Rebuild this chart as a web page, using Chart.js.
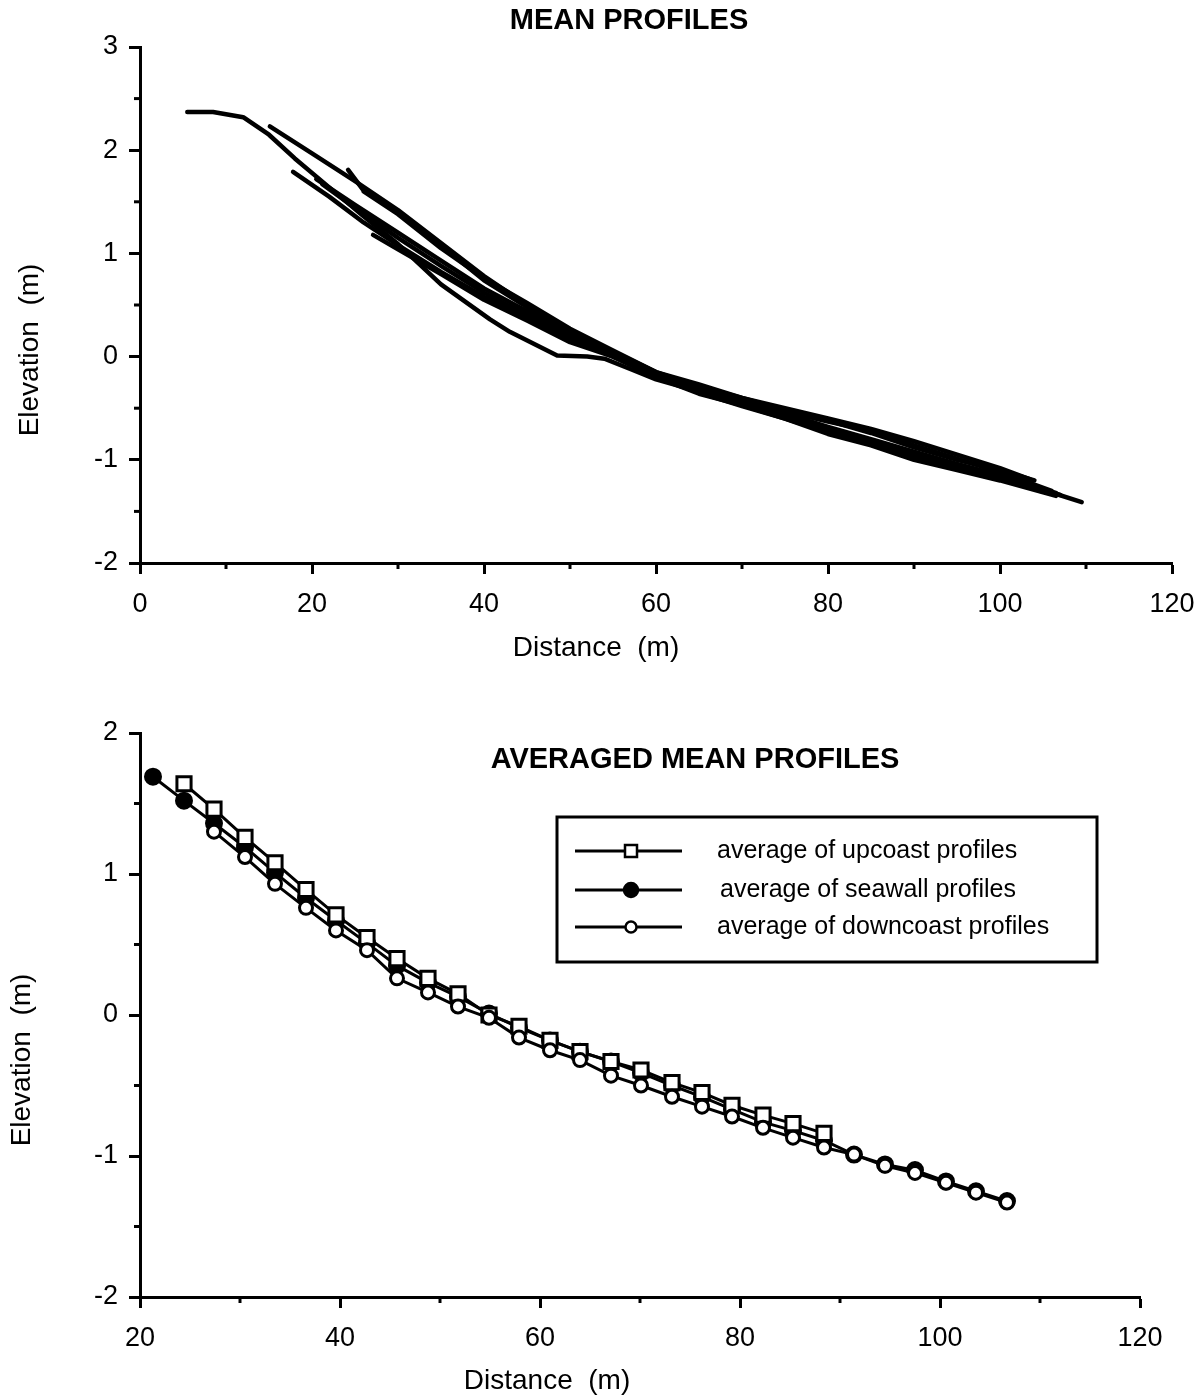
<!DOCTYPE html>
<html>
<head>
<meta charset="utf-8">
<script src="https://cdn.jsdelivr.net/npm/chart.js@4.4.1/dist/chart.umd.min.js"></script>
<style>
  html, body { margin: 0; padding: 0; background: #fff; }
  #wrap { position: relative; width: 1202px; height: 1397px; }
  canvas { position: absolute; left: 0; }
</style>
</head>
<body>
<div id="wrap">
  <canvas id="topChart" width="1202" height="690" style="top:0"></canvas>
  <canvas id="bottomChart" width="1202" height="707" style="top:690px"></canvas>
</div>
<script>
// --- MEAN PROFILES: individual profiles (distance m, elevation m)
const distA = [5.5, 8.5, 12, 15, 18, 22, 26, 30, 35, 40.7, 43, 48.5, 52, 54, 57, 60, 65, 70, 75, 80, 85, 90, 95, 100, 105, 109.5];
const elevA = [2.37, 2.37, 2.32, 2.15, 1.92, 1.64, 1.36, 1.09, 0.70, 0.36, 0.24, 0.01, 0.0, -0.02, -0.12, -0.22, -0.34, -0.45, -0.56, -0.70, -0.82, -0.93, -1.05, -1.16, -1.29, -1.41];
const distB = [15.1, 20, 25, 30, 35, 40, 45, 50, 55, 60, 65, 70, 75, 80, 85, 90, 95, 100, 103.5];
const elevB = [2.23, 1.97, 1.70, 1.42, 1.10, 0.78, 0.50, 0.25, 0.05, -0.15, -0.27, -0.40, -0.50, -0.60, -0.70, -0.82, -0.95, -1.08, -1.19];
const distC = [24.2, 25.9, 30, 35, 40, 45, 50, 55, 60, 65, 70, 75, 80, 85, 90, 95, 100, 106];
const elevC = [1.81, 1.62, 1.40, 1.08, 0.74, 0.48, 0.22, 0.04, -0.17, -0.30, -0.42, -0.53, -0.63, -0.72, -0.86, -0.99, -1.12, -1.30];
const distD = [17.8, 22, 26, 30, 35, 40, 45, 50, 55, 60, 65, 70, 75, 80, 85, 90, 95, 100, 106.5];
const elevD = [1.79, 1.55, 1.30, 1.08, 0.82, 0.58, 0.38, 0.18, 0.02, -0.20, -0.33, -0.46, -0.58, -0.72, -0.83, -0.95, -1.06, -1.17, -1.32];
const distE = [21.2, 25, 30, 35, 40, 45, 50, 55, 60, 65, 70, 75, 80, 85, 90, 95, 100, 103.5];
const elevE = [1.67, 1.44, 1.15, 0.88, 0.62, 0.40, 0.18, 0.0, -0.18, -0.35, -0.48, -0.60, -0.73, -0.85, -0.97, -1.08, -1.18, -1.22];
const distF = [27.1, 30, 35, 40, 45, 50, 55, 60, 65, 70, 75, 80, 85, 90, 95, 100, 106.5];
const elevF = [1.18, 1.04, 0.80, 0.55, 0.35, 0.14, 0.0, -0.20, -0.36, -0.47, -0.60, -0.75, -0.86, -1.00, -1.10, -1.20, -1.35];
const distG = [26, 30, 35, 40, 45, 50, 55, 60, 65, 70, 75, 80, 85, 90, 95, 100, 104];
const elevG = [1.60, 1.38, 1.05, 0.76, 0.52, 0.27, 0.06, -0.15, -0.29, -0.40, -0.52, -0.62, -0.74, -0.88, -1.00, -1.10, -1.20];
const distH = [20.5, 25, 30, 35, 40, 45, 50, 55, 60, 65, 70, 75, 80, 85, 90, 95, 100, 107];
const elevH = [1.72, 1.47, 1.20, 0.93, 0.66, 0.44, 0.22, 0.03, -0.19, -0.31, -0.44, -0.55, -0.68, -0.80, -0.92, -1.04, -1.15, -1.34];

// --- AVERAGED MEAN PROFILES (10 ft station spacing)
const avgDist = [21.3, 24.4, 27.4, 30.5, 33.5, 36.6, 39.6, 42.7, 45.7, 48.8, 51.8, 54.9, 57.9, 61.0, 64.0, 67.1, 70.1, 73.2, 76.2, 79.2, 82.3, 85.3, 88.4, 91.4, 94.5, 97.5, 100.6, 103.6, 106.7];
const upcoast = [null, 1.64, 1.46, 1.26, 1.08, 0.89, 0.71, 0.55, 0.40, 0.26, 0.15, 0.0, -0.08, -0.18, -0.26, -0.33, -0.39, -0.48, -0.55, -0.64, -0.71, -0.77, -0.84, null, null, null, null, null, null];
const seawall = [1.69, 1.52, 1.36, 1.19, 1.01, 0.83, 0.67, 0.51, 0.35, 0.23, 0.13, 0.01, -0.09, -0.18, -0.26, -0.33, -0.41, -0.50, -0.58, -0.67, -0.76, -0.82, -0.89, -0.99, -1.06, -1.10, -1.18, -1.25, -1.32];
const downcoast = [null, null, 1.30, 1.12, 0.93, 0.76, 0.60, 0.46, 0.26, 0.16, 0.06, -0.02, -0.16, -0.25, -0.32, -0.43, -0.50, -0.58, -0.65, -0.72, -0.80, -0.87, -0.94, -0.99, -1.07, -1.12, -1.19, -1.26, -1.33];
const seriesNames = ['average of upcoast profiles', 'average of seawall profiles', 'average of downcoast profiles'];

const FONT = '"Liberation Sans", Arial, Helvetica, sans-serif';

const toPoints = (xs, ys) => xs.map((x, i) => ({ x, y: ys[i] })).filter(p => p.y !== null);

// short minor ticks (Chart.js only has one tick length)
const minorTicks = {
    id: 'minorTicks',
    afterDraw(chart) {
        const { ctx, scales: { x, y } } = chart;
        ctx.save();
        ctx.strokeStyle = '#000';
        ctx.lineWidth = 3;
        x.ticks.forEach(t => {
            if (t.label !== '') return;
            const px = x.getPixelForValue(t.value);
            ctx.beginPath(); ctx.moveTo(px, y.bottom); ctx.lineTo(px, y.bottom + 6); ctx.stroke();
        });
        y.ticks.forEach(t => {
            if (t.label !== '') return;
            const py = y.getPixelForValue(t.value);
            ctx.beginPath(); ctx.moveTo(x.left, py); ctx.lineTo(x.left - 6, py); ctx.stroke();
        });
        ctx.restore();
    }
};

// free text: titles and axis titles
const texts = {
    id: 'texts',
    afterDraw(chart, args, opts) {
        const ctx = chart.ctx;
        ctx.save();
        ctx.fillStyle = '#000';
        ctx.textAlign = 'center';
        ctx.textBaseline = 'middle';
        opts.items.forEach(it => {
            ctx.font = it.font;
            ctx.save();
            ctx.translate(it.x, it.y);
            if (it.rotate) ctx.rotate(it.rotate);
            ctx.fillText(it.text, 0, 0);
            ctx.restore();
        });
        ctx.restore();
    }
};

// boxed legend inside the plot
const boxLegend = {
    id: 'boxLegend',
    afterDraw(chart, args, opts) {
        const ctx = chart.ctx;
        const b = opts.box;
        ctx.save();
        ctx.strokeStyle = '#000';
        ctx.lineWidth = 3;
        ctx.strokeRect(b.x, b.y, b.w, b.h);
        ctx.font = opts.font;
        ctx.textBaseline = 'middle';
        ctx.fillStyle = '#000';
        chart.data.datasets.forEach((ds, i) => {
            const yy = opts.rows[i];
            ctx.lineWidth = 3;
            ctx.beginPath(); ctx.moveTo(opts.lineX0, yy); ctx.lineTo(opts.lineX1, yy); ctx.stroke();
            const mx = opts.markX;
            ctx.fillStyle = ds.pointBackgroundColor;
            ctx.lineWidth = 2.5;
            ctx.beginPath();
            if (ds.pointStyle === 'rect') {
                ctx.rect(mx - 6, yy - 6, 12, 12);
            } else {
                ctx.arc(mx, yy, ds.pointBackgroundColor === '#000' ? 7 : 5.5, 0, Math.PI * 2);
            }
            ctx.fill(); ctx.stroke();
            ctx.fillStyle = '#000';
            ctx.fillText(ds.label, opts.textX[i], yy);
        });
        ctx.restore();
    }
};

const axisStyle = (min, max, step, labelStep, widthOrHeight, isX) => ({
    type: 'linear',
    min, max,
    afterFit: s => {
        if (isX) { s.height = widthOrHeight; s.paddingLeft = 0; s.paddingRight = 0; }
        else { s.width = widthOrHeight; s.paddingTop = 0; s.paddingBottom = 0; }
    },
    border: { display: true, color: '#000', width: 3 },
    grid: {
        display: true,
        drawOnChartArea: false,
        drawTicks: true,
        tickLength: 11,
        tickWidth: 3,
        tickColor: c => (Math.abs(c.tick.value / labelStep - Math.round(c.tick.value / labelStep)) < 1e-6 ? '#000' : 'rgba(0,0,0,0)')
    },
    ticks: {
        stepSize: step,
        autoSkip: false,
        maxRotation: 0,
        color: '#000',
        padding: isX ? 14 : 11,
        font: { family: FONT, size: 27 },
        callback: v => (Math.abs(v / labelStep - Math.round(v / labelStep)) < 1e-6 ? String(Math.round(v)) : '')
    }
});

const profileSet = [[distA, elevA], [distB, elevB], [distC, elevC], [distD, elevD], [distE, elevE], [distF, elevF], [distG, elevG], [distH, elevH]];

new Chart(document.getElementById('topChart'), {
    type: 'scatter',
    data: {
        datasets: profileSet.map(([xs, ys], i) => ({
            label: 'profile ' + (i + 1),
            data: toPoints(xs, ys),
            showLine: true,
            borderColor: '#000',
            borderWidth: 4.5,
            borderCapStyle: 'round',
            borderJoinStyle: 'round',
            pointRadius: 0,
            tension: 0
        }))
    },
    options: {
        responsive: false,
        devicePixelRatio: 1,
        animation: false,
        layout: { padding: { top: 47, right: 30, left: 0, bottom: 0 } },
        scales: {
            x: axisStyle(0, 120, 10, 20, 127, true),
            y: axisStyle(-2, 3, 0.5, 1, 140, false)
        },
        plugins: {
            legend: { display: false },
            tooltip: { enabled: false },
            texts: {
                items: [
                    { text: 'MEAN PROFILES', x: 629, y: 21, font: 'bold 29px ' + FONT },
                    { text: 'Distance  (m)', x: 596, y: 648, font: '28px ' + FONT },
                    { text: 'Elevation  (m)', x: 30, y: 350, font: '28px ' + FONT, rotate: -Math.PI / 2 }
                ]
            }
        }
    },
    plugins: [minorTicks, texts]
});

const avgStyles = [
    { pointStyle: 'rect', pointRadius: 10, pointBackgroundColor: '#fff', order: 2 },
    { pointStyle: 'circle', pointRadius: 7.5, pointBackgroundColor: '#000', order: 3 },
    { pointStyle: 'circle', pointRadius: 6.5, pointBackgroundColor: '#fff', order: 1 }
];

new Chart(document.getElementById('bottomChart'), {
    type: 'scatter',
    data: {
        datasets: [upcoast, seawall, downcoast].map((vals, i) => ({
            label: seriesNames[i],
            data: toPoints(avgDist, vals),
            showLine: true,
            borderColor: '#000',
            borderWidth: 3,
            tension: 0,
            pointBorderColor: '#000',
            pointBorderWidth: 3,
            ...avgStyles[i]
        }))
    },
    options: {
        responsive: false,
        devicePixelRatio: 1,
        animation: false,
        layout: { padding: { top: 43, right: 62, left: 0, bottom: 0 } },
        scales: {
            x: axisStyle(20, 120, 10, 20, 100, true),
            y: axisStyle(-2, 2, 0.5, 1, 140, false)
        },
        plugins: {
            legend: { display: false },
            tooltip: { enabled: false },
            texts: {
                items: [
                    { text: 'AVERAGED MEAN PROFILES', x: 695, y: 70, font: 'bold 29px ' + FONT },
                    { text: 'Distance  (m)', x: 547, y: 691, font: '28px ' + FONT },
                    { text: 'Elevation  (m)', x: 22, y: 370, font: '28px ' + FONT, rotate: -Math.PI / 2 }
                ]
            },
            boxLegend: {
                box: { x: 557, y: 127, w: 540, h: 145 },
                rows: [161, 200, 237],
                lineX0: 575, lineX1: 682, markX: 631,
                textX: [717, 720, 717],
                font: '25px ' + FONT
            }
        }
    },
    plugins: [minorTicks, texts, boxLegend]
});
</script>
</body>
</html>
